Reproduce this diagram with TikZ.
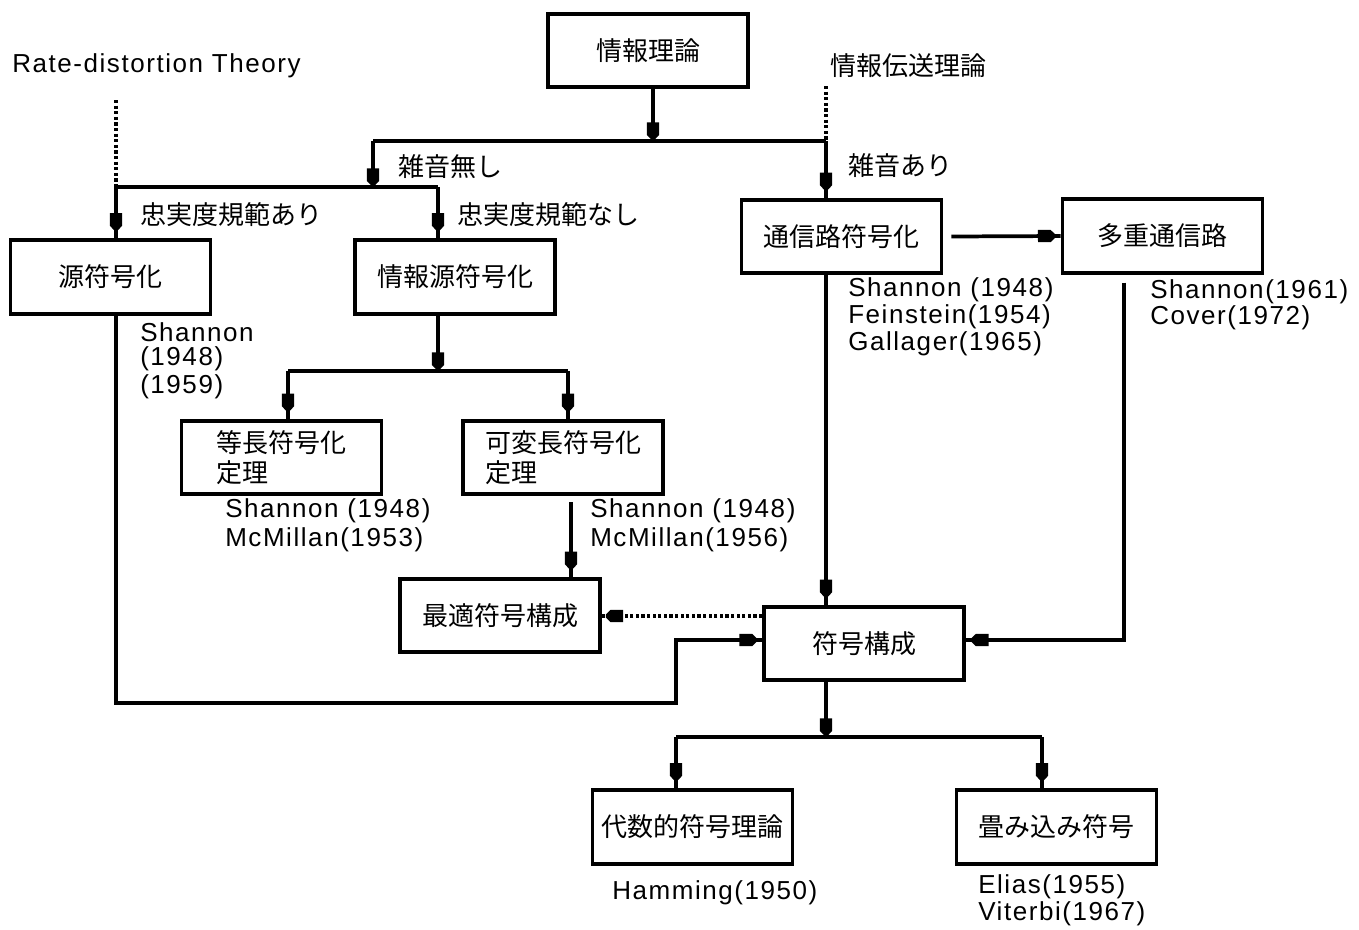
\documentclass[tikz,border=0pt]{standalone}
\usepackage{fontspec}
\setmainfont[LetterSpace=6]{Liberation Sans}
\newfontfamily\jp{Noto Sans CJK JP}
\usetikzlibrary{decorations.markings}
\tikzset{
  box/.style={draw, line width=2.8pt, minimum width=150pt, minimum height=55pt, inner sep=0pt,
    align=left, font=\jp\fontsize{19.5}{21}\selectfont},
  conn/.style={line width=2.8pt},
  dotconn/.style={line width=3pt, dash pattern=on 2.4pt off 1.8pt},
  jlab/.style={anchor=west, inner sep=0pt, font=\jp\fontsize{19.5}{21}\selectfont},
  llab/.style={anchor=west, inner sep=0pt, font=\fontsize{19.5}{20}\selectfont},
  arr/.style={decoration={markings, mark=at position #1 with {\fill (-13pt,-4.6pt) -- (-3.5pt,-4.6pt) -- (0pt,-1.2pt) -- (0pt,1.2pt) -- (-3.5pt,4.6pt) -- (-13pt,4.6pt) -- cycle;}}, postaction={decorate}},
  arr/.default={-6pt}
}
\begin{document}
\begin{tikzpicture}[x=0.75pt, y=-0.75pt]
\useasboundingbox (0,0) rectangle (1359,929);

% boxes
\node[box] (info)  at (648,50.5)   {情報理論};
\node[box] (src)   at (110.5,277)  {源符号化};
\node[box] (isrc)  at (455,277)    {情報源符号化};
\node[box] (chan)  at (841.5,236.5){通信路符号化};
\node[box] (multi) at (1162.5,236) {多重通信路};
\node[box] (fixed) at (281.5,457.5){等長符号化\\[1pt]定理};
\node[box] (var)   at (563,457.5)  {可変長符号化\\[1pt]定理};
\node[box] (opt)   at (500,615.5)  {最適符号構成};
\node[box] (code)  at (864,643.5)  {符号構成};
\node[box] (alg)   at (692.5,827)  {代数的符号理論};
\node[box] (conv)  at (1056.5,827) {畳み込み符号};

% junction coordinates
\coordinate (j1) at (653,141);
\coordinate (j1l) at (373,141);
\coordinate (j1r) at (826,141);
\coordinate (j2) at (373,187);
\coordinate (j2l) at (116,187);
\coordinate (j2r) at (438,187);
\coordinate (j3) at (438,371);
\coordinate (j3l) at (288,371);
\coordinate (j3r) at (568,371);
\coordinate (j4) at (826,737);
\coordinate (j4l) at (676,737);
\coordinate (j4r) at (1042,737);
\coordinate (rdtop) at (116,100);
\coordinate (ittop) at (826,86);
\coordinate (lp1) at (116,703);
\coordinate (lp2) at (676,703);
\coordinate (lp3) at (676,640);
\coordinate (rp1) at (1124,640);

% labels
\node[llab] (rd) at (12,66) {Rate-distortion Theory};
\node[jlab] (it) at (830,66) {情報伝送理論};
\node[jlab] (l1) at (398,167) {雑音無し};
\node[jlab] (l2) at (848,166) {雑音あり};
\node[jlab] (l3) at (140,215) {忠実度規範あり};
\node[jlab] (l4) at (457,215) {忠実度規範なし};

\node[llab] (s1) at (140,332) {Shannon};
\node[llab] (s2) at (140,359) {(1948)};
\node[llab] (s3) at (140,387) {(1959)};
\node[llab] (c1) at (848,290) {Shannon (1948)};
\node[llab] (c2) at (848,317) {Feinstein(1954)};
\node[llab] (c3) at (848,344) {Gallager(1965)};
\node[llab] (m1) at (1150,292) {Shannon(1961)};
\node[llab] (m2) at (1150,318) {Cover(1972)};
\node[llab] (f1) at (225,511) {Shannon (1948)};
\node[llab] (f2) at (225,540) {McMillan(1953)};
\node[llab] (v1) at (590,511) {Shannon (1948)};
\node[llab] (v2) at (590,540) {McMillan(1956)};
\node[llab] (h1) at (612,893) {Hamming(1950)};
\node[llab] (e1) at (978,887) {Elias(1955)};
\node[llab] (e2) at (978,914) {Viterbi(1967)};

% connectors
\draw[conn, arr=-1pt] (info.south -| j1) -- (j1);
\draw[conn] (j1l) -- (j1r);
\draw[conn, arr=-1pt] (j1l) -- (j2);
\draw[dotconn] (ittop) -- (j1r);
\draw[conn, arr] (j1r) -- (chan.north -| j1r);
\draw[dotconn] (rdtop) -- (j2l);
\draw[conn] (j2l) -- (j2r);
\draw[conn, arr] (j2l) -- (src.north -| j2l);
\draw[conn, arr] (j2r) -- (isrc.north -| j2r);
\draw[conn, arr=-1pt] (isrc.south -| j3) -- (j3);
\draw[conn] (j3l) -- (j3r);
\draw[conn, arr] (j3l) -- (fixed.north -| j3l);
\draw[conn, arr] (j3r) -- (var.north -| j3r);
\draw[conn, arr] ([yshift=-4.5pt]var.south -| 571,0) -- (opt.north -| 571,0);
\draw[dotconn, arr=-3pt] (code.west |- 0,616) -- (opt.east |- 0,616);
\draw[conn, arr=-4pt] (src.south -| lp1) -- (lp1) -- (lp2) -- (lp3) -- (code.west |- lp3);
\draw[conn, arr=-4pt] ([xshift=6pt]chan.east) -- (multi.west);
\draw[conn, arr] (chan.south -| j1r) -- (code.north -| j1r);
\draw[conn, arr=-4pt] ([yshift=-6pt]multi.south -| rp1) -- (rp1) -- (code.east |- rp1);
\draw[conn, arr=-1pt] (code.south -| j4) -- (j4);
\draw[conn] (j4l) -- (j4r);
\draw[conn, arr] (j4l) -- (alg.north -| j4l);
\draw[conn, arr] (j4r) -- (conv.north -| j4r);
\end{tikzpicture}
\end{document}
